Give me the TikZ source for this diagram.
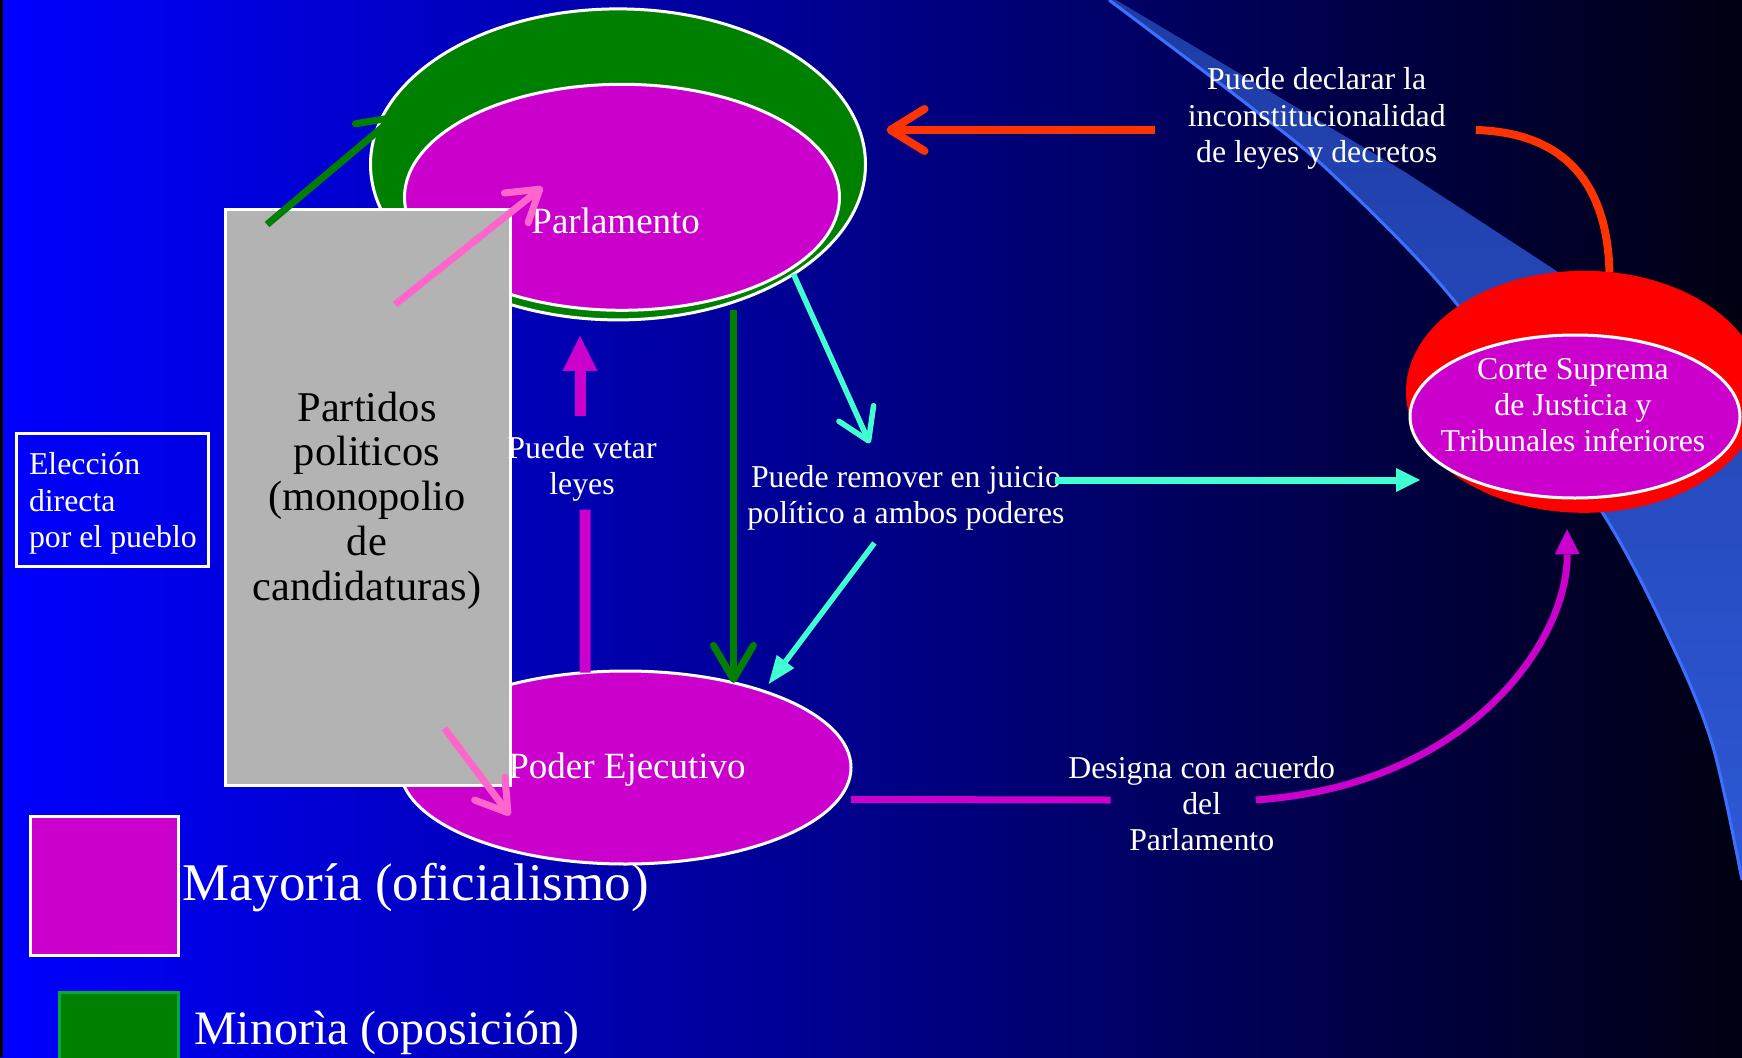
\documentclass[tikz,border=0pt]{standalone}
\usepackage{fontspec}
\setmainfont{Liberation Serif}
\usetikzlibrary{shapes.geometric,arrows.meta,calc}
\definecolor{fondoA}{RGB}{0,0,255}
\definecolor{fondoB}{RGB}{0,0,140}
\definecolor{fondoC}{RGB}{0,0,18}
\definecolor{magen}{RGB}{204,0,204}
\definecolor{verde}{RGB}{0,128,0}
\definecolor{verdeclaro}{RGB}{0,170,60}
\definecolor{gris}{RGB}{179,179,179}
\definecolor{rojo}{RGB}{255,51,0}
\definecolor{aqua}{RGB}{64,255,208}
\definecolor{rosa}{RGB}{255,102,204}
\definecolor{franja}{RGB}{46,88,214}
\definecolor{franjaoscura}{RGB}{30,60,165}
\definecolor{franjaborde}{RGB}{60,112,255}

\begin{document}
\begin{tikzpicture}[x=1pt,y=-1pt,
    oval/.style={ellipse,draw=white,line width=3pt,inner sep=0pt,outer sep=0pt},
    caja/.style={rectangle,draw=white,line width=3pt,inner sep=0pt,outer sep=0pt},
    rotulo/.style={text=white,align=center,inner sep=0pt,font=\fontsize{31.8}{36.3}\selectfont},
    poder/.style={text=white,inner sep=0pt,anchor=base,font=\fontsize{37}{42}\selectfont},
    rojoflecha/.style={draw=rojo,line width=8pt},
    aquaflecha/.style={draw=aqua,line width=5.5pt},
    verdeflecha/.style={draw=verde,line width=7pt,-{Straight Barb[length=34pt,width=40pt,round]}},
    vetoflecha/.style={draw=magen,line width=11pt},
    designaflecha/.style={draw=magen,line width=7pt},
    rosaflecha/.style={draw=rosa,line width=7pt,-{Straight Barb[length=30pt,width=38pt,round]}}]
    \useasboundingbox (0,0) rectangle (1742,1057);
    \shade[left color=fondoA,middle color=fondoB,right color=fondoC] (0,0) rectangle (1742,1057);
    \fill[black] (0,0) rectangle (2.5,1057);

    \shade[top color=franjaoscura,middle color=franja,bottom color=franja]
        plot[smooth] coordinates {(1109,0) (1248,105) (1330,172) (1456,303) (1602,512) (1673,647) (1713,747) (1742,880)}
        -- (1742,400) -- (1555,270) -- (1405,172) -- (1116,0) -- cycle;
    \draw[franjaborde,line width=3pt]
        plot[smooth] coordinates {(1109,0) (1248,105) (1330,172) (1456,303) (1602,512) (1673,647) (1713,747) (1742,880)};

    \node[ellipse,fill=red,inner sep=0pt,outer sep=0pt,minimum width=356pt,minimum height=242pt] (corte) at (1584,391.8) {};
    \node[oval,fill=magen,minimum width=330pt,minimum height=163pt] (cortein) at (1575,416.5) {};
    \node[rotulo] (cortetxt) at (1573,405) {Corte Suprema\\de Justicia y\\Tribunales inferiores};

    \node[oval,fill=verde,minimum width=495pt,minimum height=311pt] (parl) at (618,164.4) {};
    \node[oval,fill=magen,minimum width=435pt,minimum height=226pt] (parlin) at (622,197.3) {};
    \node[oval,fill=magen,minimum width=451pt,minimum height=193pt] (ejec) at (625.5,767.5) {};

    \node[caja,fill=gris,minimum width=285pt,minimum height=576pt] (partidos) at (367.5,497) {};
    \node[align=center,inner sep=0pt,font=\fontsize{42.4}{44.8}\selectfont] (partidostxt) at (367,500.5)
          {Partidos\\politicos\\(monopolio\\de\\candidaturas)};
    \node[caja,minimum width=192pt,minimum height=133pt] (eleccion) at (112.9,500) {};
    \node[align=left,text=white,inner sep=0pt,font=\fontsize{31.8}{36.8}\selectfont] (elecciontxt) at (112.9,503.5)
          {Elección\\directa\\por el pueblo};

    \node[caja,fill=magen,minimum width=148pt,minimum height=139pt] (mayor) at (104.2,886.3) {};
    \node[caja,draw=verdeclaro,fill=verde,minimum width=119pt,minimum height=100pt] (minor) at (119,1042) {};
    \node[anchor=base west,inner sep=0pt,text=white,font=\fontsize{53}{60}\selectfont] (mayortxt) at (182,900) {Mayoría (oficialismo)};
    \node[anchor=base west,inner sep=0pt,text=white,font=\fontsize{48}{56}\selectfont] (minortxt) at (194,1044) {Minorìa (oposición)};

    \node[poder] (parltxt) at (615.7,233) {Parlamento};
    \node[poder] (ejectxt) at (627,778.9) {Poder Ejecutivo};

    \node[rotulo] (declara) at (1316.7,118.5) {Puede declarar la\\inconstitucionalidad\\de leyes y decretos};
    \node[rotulo] (veta) at (582,468.8) {Puede vetar\\leyes};
    \node[rotulo] (remover) at (906,497.5) {Puede remover en juicio\\político a ambos poderes};
    \node[rotulo] (designa) at (1201.7,803.5) {Designa con acuerdo\\del\\Parlamento};

    \draw[rojoflecha] (corte.78) .. controls +(-2,-77) and +(99,3) .. ($(declara.east)+(30,11.5)$);
    \draw[rojoflecha,-{Straight Barb[length=34pt,width=42pt,round]},shorten >=21pt]
        ([xshift=-33pt,yshift=-11.5pt]declara.west) -- ([yshift=-11.5pt]declara.west -| parl.east);

    \draw[aquaflecha,-{Straight Barb[length=30pt,width=38pt,round]}] (parl.-32) -- ($(remover.north)+(-36.3,-21.4)$);
    \draw[aquaflecha,line width=7pt,-{Triangle[length=24pt,width=24pt,line width=0pt]},shorten >=-14pt]
        ([xshift=-9.5pt,yshift=17.5pt]remover.east) -- ([yshift=17.5pt]remover.east -| corte.west);
    \draw[aquaflecha,-{Triangle[length=28pt,width=22pt,line width=0pt]},shorten >=9pt]
        ($(remover.south)+(-31.6,12.7)$) -- (ejec.29);

    \draw[verdeflecha,shorten <=8pt] (parl.-50) -- (parl.-50 |- ejec.38);

    \draw[vetoflecha] ([xshift=3pt,yshift=-8pt]veta.south) -- (ejec.113);
    \draw[vetoflecha,-{Triangle[length=35pt,width=35pt,line width=0pt]},shorten >=16pt]
        ([xshift=-2pt,yshift=19.5pt]veta.north) -- ([xshift=-2pt]veta.north |- parl.south);

    \draw[designaflecha] ([yshift=-32pt]ejec.east) -- ($(designa.center)+(-91,-3.5)$);
    \draw[designaflecha,-{Triangle[length=25pt,width=25pt,line width=0pt]}]
        ($(designa.center)+(54,-3.5)$) .. controls +(214,-15) and +(1,111) .. ($(corte.south)+(-17,16.5)$);

    \draw[rosaflecha] ($(partidos.center)+(27.5,-192.5)$) -- ($(parlin.center)+(-79.5,-10.3)$);
    \draw[rosaflecha] ($(partidos.center)+(77,231.4)$) -- ($(ejec.center)+(-115.5,47.9)$);
    \draw[verdeflecha] ($(partidos.north west)+(42,15.5)$) -- ($(parl.center)+(-221,-49.4)$);
\end{tikzpicture}
\end{document}
